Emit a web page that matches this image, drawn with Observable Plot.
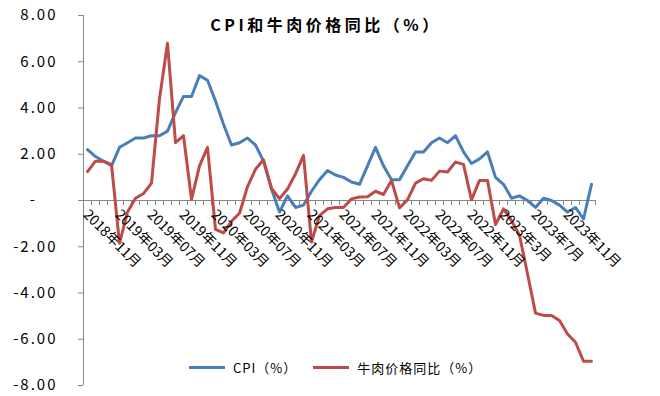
<!DOCTYPE html>
<html><head><meta charset="utf-8">
<script src="https://cdn.jsdelivr.net/npm/d3@7"></script>
<script src="https://cdn.jsdelivr.net/npm/@observablehq/plot@0.6"></script>
<style>
body{margin:0;background:#fff;}
#wrap{position:relative;width:660px;height:396px;font-family:"Noto Sans CJK SC",sans-serif;color:#000;}
#title{position:absolute;left:0;width:652px;top:13px;text-align:center;font-weight:bold;font-size:16px;letter-spacing:3.5px;line-height:22px;}
#legend{position:absolute;left:189px;top:357px;height:20px;display:flex;align-items:center;font-size:13px;letter-spacing:1px;}
#legend .sw{display:inline-block;width:36px;height:3px;margin-right:8px;}
#legend .item{display:flex;align-items:center;margin-right:16px;}
g[aria-label="y-axis tick"]{stroke:#868686;}
g[aria-label="y-axis tick label"] text{letter-spacing:2px;}
</style>
</head><body>
<div id="wrap"><div id="chart"></div><div id="title"></div><div id="legend"></div></div>
<script>
const titleText = "CPI和牛肉价格同比（%）";
const seriesNames = ["CPI（%）", "牛肉价格同比（%）"];
const seriesColors = ["#4A7EBB", "#BE4B48"];
const months = [
  "2018年11月","2018年12月",
  "2019年01月","2019年02月","2019年03月","2019年04月","2019年05月","2019年06月","2019年07月","2019年08月","2019年09月","2019年10月","2019年11月","2019年12月",
  "2020年01月","2020年02月","2020年03月","2020年04月","2020年05月","2020年06月","2020年07月","2020年08月","2020年09月","2020年10月","2020年11月","2020年12月",
  "2021年01月","2021年02月","2021年03月","2021年04月","2021年05月","2021年06月","2021年07月","2021年08月","2021年09月","2021年10月","2021年11月","2021年12月",
  "2022年01月","2022年02月","2022年03月","2022年04月","2022年05月","2022年06月","2022年07月","2022年08月","2022年09月","2022年10月","2022年11月","2022年12月",
  "2023年1月","2023年2月","2023年3月","2023年4月","2023年5月","2023年6月","2023年7月","2023年8月","2023年9月","2023年10月","2023年11月","2023年12月",
  "2024年1月","2024年2月"
];
const cpi = [2.2,1.9,1.7,1.5,2.3,2.5,2.7,2.7,2.8,2.8,3.0,3.8,4.5,4.5,5.4,5.2,4.3,3.3,2.4,2.5,2.7,2.4,1.7,0.5,-0.5,0.2,-0.3,-0.2,0.4,0.9,1.3,1.1,1.0,0.8,0.7,1.5,2.3,1.5,0.9,0.9,1.5,2.1,2.1,2.5,2.7,2.5,2.8,2.1,1.6,1.8,2.1,1.0,0.7,0.1,0.2,0.0,-0.3,0.1,0.0,-0.2,-0.5,-0.3,-0.8,0.7];
const beef = [1.25,1.7,1.7,1.55,-1.85,-0.5,0.1,0.3,0.75,4.4,6.8,2.5,2.8,0.05,1.5,2.3,-1.25,-1.4,-0.9,-0.55,0.6,1.35,1.76,0.52,0.08,0.5,1.15,1.95,-1.8,-0.65,-0.36,-0.3,-0.3,0.07,0.15,0.16,0.4,0.26,0.87,-0.32,0.03,0.75,0.94,0.87,1.27,1.23,1.66,1.56,0.03,0.87,0.87,-1.04,-0.36,-0.87,-1.5,-3.17,-4.87,-4.97,-4.97,-5.19,-5.77,-6.13,-6.95,-6.95];
const yTicks = [-8,-6,-4,-2,0,2,4,6,8];
const labelEvery = 4;

const data = months.map((m, i) => ({i, m, cpi: cpi[i], beef: beef[i]}));
const labelled = data.filter(d => d.i % labelEvery === 0);
const bounds = d3.range(months.length + 1).map(k => k - 0.5);

const chart = Plot.plot({
  width: 660, height: 396,
  marginLeft: 83, marginRight: 65, marginTop: 15, marginBottom: 11,
  style: {fontFamily: '"Noto Sans CJK SC", sans-serif', background: "#fff", overflow: "visible", color: "#000"},
  x: {type: "linear", domain: [-0.5, months.length - 0.5], axis: null},
  y: {domain: [-8, 8]},
  marks: [
    Plot.axisY({ticks: yTicks, tickFormat: d => d === 0 ? "-\u2007\u2007" : d.toFixed(2), tickSize: 5, tickPadding: 21, fontSize: 15, label: null}),
    Plot.ruleX([-0.5], {stroke: "#868686"}),
    Plot.ruleY([0], {stroke: "#868686"}),
    Plot.ruleX(bounds, {x: d => d, y1: 0, y2: 0, insetBottom: -5, stroke: "#868686"}),
    Plot.line(data, {x: "i", y: "cpi", stroke: seriesColors[0], strokeWidth: 3, strokeLinejoin: "round"}),
    Plot.line(data, {x: "i", y: "beef", stroke: seriesColors[1], strokeWidth: 3, strokeLinejoin: "round"}),
    Plot.text(labelled, {x: "i", y: 0, text: "m", rotate: 45, textAnchor: "start", lineAnchor: "top", dx: 2, dy: 8, fontSize: 14, fill: "#000"})
  ]
});
document.getElementById("chart").appendChild(chart);
document.getElementById("title").textContent = titleText;
const legend = document.getElementById("legend");
seriesNames.forEach((n, k) => {
  const it = document.createElement("span"); it.className = "item";
  const sw = document.createElement("span"); sw.className = "sw"; sw.style.background = seriesColors[k];
  const tx = document.createElement("span"); tx.textContent = n;
  it.appendChild(sw); it.appendChild(tx); legend.appendChild(it);
});
</script>
</body></html>
